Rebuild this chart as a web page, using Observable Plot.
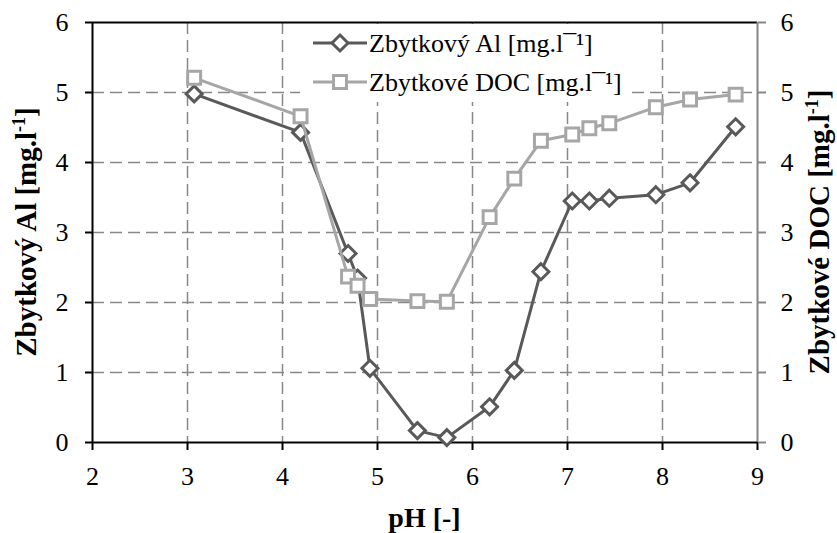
<!DOCTYPE html>
<html>
<head>
<meta charset="utf-8">
<script src="https://cdn.jsdelivr.net/npm/d3@7"></script>
<script src="https://cdn.jsdelivr.net/npm/@observablehq/plot@0.6"></script>
<style>
  body { margin: 0; background: #fff; }
  svg { display: block; }
</style>
</head>
<body>
<div id="chart"></div>
<script>
// pH of each sample and residual concentrations after coagulation
const pH  = [3.07, 4.19, 4.69, 4.79, 4.92, 5.42, 5.73, 6.18, 6.44, 6.72, 7.05, 7.23, 7.44, 7.93, 8.29, 8.77];
const al  = [4.98, 4.43, 2.70, 2.35, 1.06, 0.17, 0.07, 0.51, 1.03, 2.44, 3.45, 3.45, 3.49, 3.54, 3.71, 4.51];
const doc = [5.21, 4.66, 2.37, 2.24, 2.05, 2.02, 2.01, 3.22, 3.77, 4.31, 4.40, 4.49, 4.56, 4.79, 4.90, 4.97];

const xTicks = [2, 3, 4, 5, 6, 7, 8, 9];
const yTicks = [0, 1, 2, 3, 4, 5, 6];

const seriesNames = ["Zbytkový Al [mg.l\u00AF\u00B9]", "Zbytkové DOC [mg.l\u00AF\u00B9]"];
const xTitle = "pH [-]";
const yLeftTitle = ["Zbytkový Al [mg.l", "-1", "]"];
const yRightTitle = ["Zbytkové DOC [mg.l", "-1", "]"];

const alRows = pH.map((p, i) => ({pH: p, v: al[i]}));
const docRows = pH.map((p, i) => ({pH: p, v: doc[i]}));

const AL_COLOR = "#595959";
const DOC_COLOR = "#a6a6a6";
const FONT = "Liberation Serif, Times New Roman, serif";

const xMin = xTicks[0], xMax = xTicks[xTicks.length - 1];
const yMin = yTicks[0], yMax = yTicks[yTicks.length - 1];
const innerX = xTicks.slice(1, -1);
const innerY = yTicks.slice(1, -1);
const fmt = d3.format("d");

const chart = Plot.plot({
  width: 837,
  height: 533,
  marginLeft: 92,
  marginRight: 80,
  marginTop: 22,
  marginBottom: 91,
  style: {fontFamily: FONT, fontSize: "26px", color: "#000", background: "#fff"},
  x: {domain: [xMin, xMax]},
  y: {domain: [yMin, yMax]},
  marks: [
    Plot.gridX({ticks: innerX, stroke: "#888", strokeOpacity: 1, strokeWidth: 1.5, strokeDasharray: "12,6"}),
    Plot.gridY({ticks: innerY, stroke: "#888", strokeOpacity: 1, strokeWidth: 1.5, strokeDasharray: "12,6"}),
    Plot.ruleY([yMax], {stroke: "#000", strokeWidth: 2}),
    Plot.ruleX([xMax], {stroke: "#868686", strokeWidth: 2}),
    Plot.ruleX([xMin], {stroke: "#000", strokeWidth: 2}),
    Plot.ruleY([yMin], {stroke: "#000", strokeWidth: 2}),
    Plot.axisX({ticks: xTicks, tickFormat: fmt, anchor: "bottom", tickSize: 8, tickPadding: 16, strokeWidth: 2, label: null, fontSize: 26, fontFamily: FONT}),
    Plot.axisY({ticks: yTicks, tickFormat: fmt, anchor: "left", tickSize: 7, tickPadding: 17, strokeWidth: 2, label: null, fontSize: 26, fontFamily: FONT}),
    Plot.axisY({ticks: yTicks, tickFormat: fmt, anchor: "right", tickSize: 8, tickPadding: 15, stroke: "#868686", fill: "#000", strokeWidth: 2, label: null, fontSize: 26, fontFamily: FONT}),
    Plot.line(alRows, {x: "pH", y: "v", stroke: AL_COLOR, strokeWidth: 3}),
    Plot.dot(alRows, {x: "pH", y: "v", symbol: "diamond2", r: 7.2, fill: "#fff", stroke: AL_COLOR, strokeWidth: 3}),
    Plot.line(docRows, {x: "pH", y: "v", stroke: DOC_COLOR, strokeWidth: 3}),
    Plot.dot(docRows, {x: "pH", y: "v", symbol: "square", r: 7.3, fill: "#fff", stroke: DOC_COLOR, strokeWidth: 3})
  ]
});

document.getElementById("chart").appendChild(chart);

const svg = d3.select(chart);

// axis titles
svg.append("text")
  .attr("x", 424.5).attr("y", 527)
  .attr("text-anchor", "middle")
  .attr("font-family", FONT).attr("font-weight", "bold").attr("font-size", 28)
  .attr("fill", "#000")
  .text(xTitle);

function verticalTitle(x, parts) {
  const t = svg.append("text")
    .attr("transform", `translate(${x},232) rotate(-90)`)
    .attr("text-anchor", "middle")
    .attr("font-family", FONT).attr("font-weight", "bold").attr("font-size", 29)
    .attr("fill", "#000");
  t.append("tspan").text(parts[0]);
  t.append("tspan").attr("font-size", 18).attr("dy", -11).text(parts[1]);
  t.append("tspan").attr("dy", 11).text(parts[2]);
}
verticalTitle(36, yLeftTitle);
verticalTitle(829, yRightTitle);

// legend
const legend = svg.append("g");
legend.append("rect").attr("x", 300).attr("y", 24).attr("width", 330).attr("height", 78).attr("fill", "#fff");
const entries = [
  {name: seriesNames[0], color: AL_COLOR, sym: d3.symbolDiamond2, size: 7.2 * 7.2 * Math.PI, y: 43},
  {name: seriesNames[1], color: DOC_COLOR, sym: d3.symbolSquare, size: 7.3 * 7.3 * Math.PI, y: 82}
];
for (const e of entries) {
  legend.append("line").attr("x1", 313).attr("x2", 367).attr("y1", e.y).attr("y2", e.y)
    .attr("stroke", e.color).attr("stroke-width", 3);
  legend.append("path").attr("d", d3.symbol(e.sym, e.size)())
    .attr("transform", `translate(340,${e.y})`)
    .attr("fill", "#fff").attr("stroke", e.color).attr("stroke-width", 3);
  legend.append("text").attr("x", 369).attr("y", e.y).attr("dy", "0.33em")
    .attr("text-anchor", "start")
    .attr("font-family", FONT).attr("font-size", 26).attr("fill", "#000")
    .text(e.name);
}
</script>
</body>
</html>
